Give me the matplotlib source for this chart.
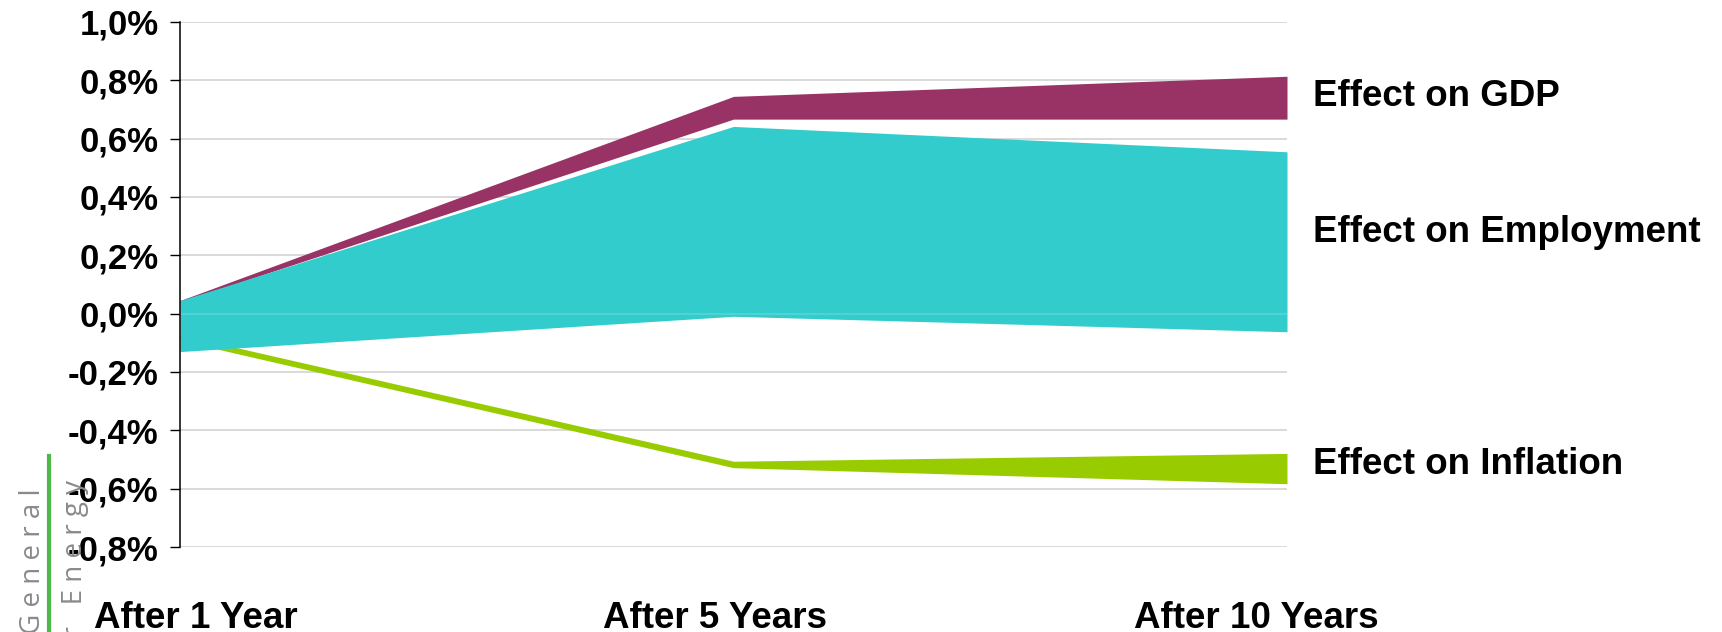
"""Range chart: estimated macro effects (GDP, employment, inflation) over time."""

# ---------------------------------------------------------------------------
# Imports
# ---------------------------------------------------------------------------
import matplotlib

matplotlib.use("Agg")

import matplotlib.pyplot as plt  # noqa: E402
from matplotlib.ticker import FuncFormatter, MultipleLocator  # noqa: E402
from matplotlib.transforms import ScaledTranslation  # noqa: E402


# ---------------------------------------------------------------------------
# Data (values in %)
# ---------------------------------------------------------------------------
CATEGORIES = ["After 1 Year", "After 5 Years", "After 10 Years"]

GDP_LOW = [0.040, 0.667, 0.667]
GDP_HIGH = [0.045, 0.745, 0.814]

EMPLOYMENT_LOW = [-0.130, -0.009, -0.062]
EMPLOYMENT_HIGH = [0.045, 0.642, 0.555]

INFLATION_LOW = [-0.092, -0.528, -0.583]
INFLATION_HIGH = [-0.072, -0.506, -0.479]

SERIES_LABELS = ["Effect on GDP", "Effect on Employment", "Effect on Inflation"]
LABEL_BASELINES = [0.711, 0.244, -0.548]

Y_MIN, Y_MAX, Y_STEP = -0.8, 1.0, 0.2


# ---------------------------------------------------------------------------
# Styling
# ---------------------------------------------------------------------------
GDP_COLOR = "#993366"
EMPLOYMENT_COLOR = "#33CCCC"
INFLATION_COLOR = "#99CC00"
GRID_COLOR = "#CFCFCF"
FONT = "Liberation Sans"
SIDEBAR_GREY = "#8A8A8A"

# horizontal nudges (pixels) for the category labels
XLABEL_SHIFT_PX = [16, -19, -31]


def pct_label(value, _pos):
    return f"{value:.1f}%".replace(".", ",")


def letter_spaced(text: str) -> str:
    return " ".join(text)


def main() -> None:
    fig = plt.figure(figsize=(17.22, 6.32), dpi=100)
    ax = fig.add_axes([180 / 1722, 1 - 547 / 632, 1107 / 1722, 525 / 632])

    x = list(range(len(CATEGORIES)))

    # bands: inflation underneath, employment on top
    ax.fill_between(x, INFLATION_LOW, INFLATION_HIGH, color=INFLATION_COLOR,
                    linewidth=0, zorder=2)
    ax.fill_between(x, GDP_LOW, GDP_HIGH, color=GDP_COLOR, linewidth=0, zorder=3)
    ax.fill_between(x, EMPLOYMENT_LOW, EMPLOYMENT_HIGH, color=EMPLOYMENT_COLOR,
                    linewidth=0, zorder=4)
    ax.axhline(0, color="white", alpha=0.18, linewidth=1.2, zorder=5)

    ax.set_xlim(x[0], x[-1])
    ax.set_ylim(Y_MIN, Y_MAX)
    ax.yaxis.set_major_locator(MultipleLocator(Y_STEP))
    ax.yaxis.set_major_formatter(FuncFormatter(pct_label))
    ax.grid(axis="y", color=GRID_COLOR, linewidth=1.1, zorder=0)
    ax.set_axisbelow(True)

    for side in ("top", "right", "bottom"):
        ax.spines[side].set_visible(False)
    ax.spines["left"].set_linewidth(1.1)
    ax.spines["left"].set_zorder(6)

    ax.tick_params(axis="y", length=7.5, width=1.0, pad=8)
    ax.tick_params(axis="x", length=0, pad=39)
    for lbl in ax.get_yticklabels():
        lbl.set_fontfamily(FONT)
        lbl.set_fontweight("bold")
        lbl.set_fontsize(25)

    ax.set_xticks(x)
    ax.set_xticklabels(CATEGORIES, fontfamily=FONT, fontweight="bold",
                       fontsize=26.5)
    for lbl, dx in zip(ax.get_xticklabels(), XLABEL_SHIFT_PX):
        lbl.set_transform(lbl.get_transform()
                          + ScaledTranslation(dx / 100, 0, fig.dpi_scale_trans))

    for label, y in zip(SERIES_LABELS, LABEL_BASELINES):
        ax.annotate(label, xy=(x[-1], y), xytext=(19, 0),
                    textcoords="offset points", va="baseline", ha="left",
                    fontfamily=FONT, fontweight="bold", fontsize=26.5,
                    annotation_clip=False)

    # slide side-bar text at the left edge
    fig.text(33 / 1722, 1 - 488 / 632, letter_spaced("Directorate - General"),
             rotation=90, ha="center", va="top", color=SIDEBAR_GREY,
             fontsize=20, fontfamily="Open Sans", zorder=0)
    fig.text(75 / 1722, 1 - 480 / 632, letter_spaced("for Energy"),
             rotation=90, ha="center", va="top", color=SIDEBAR_GREY,
             fontsize=20, fontfamily="Open Sans", zorder=0)
    fig.add_artist(plt.Line2D([49 / 1722, 49 / 1722], [0, 1 - 456 / 632],
                              transform=fig.transFigure, color="#4CB848",
                              linewidth=3))

    fig.savefig("out.png", dpi=100)
    plt.close(fig)


if __name__ == "__main__":
    main()
